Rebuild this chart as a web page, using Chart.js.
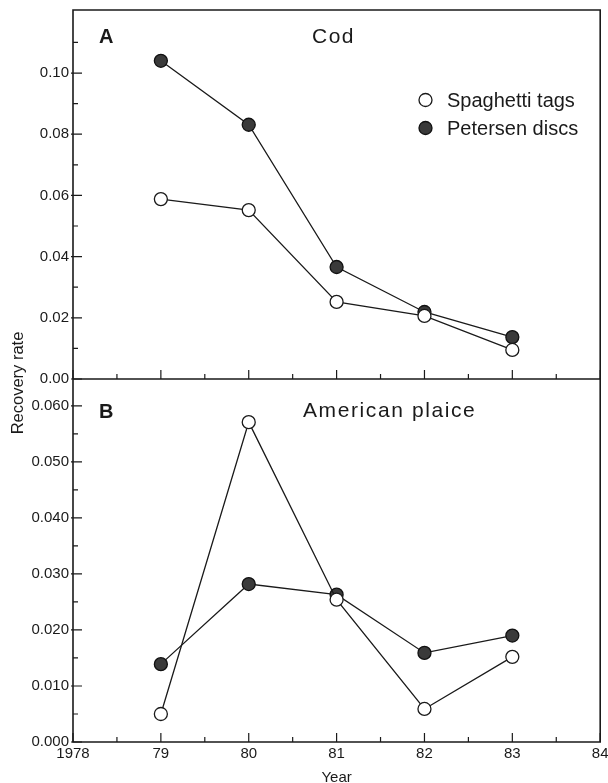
<!DOCTYPE html>
<html>
<head>
<meta charset="utf-8">
<script src="https://cdn.jsdelivr.net/npm/chart.js@4/dist/chart.umd.min.js"></script>
<style>
html,body{margin:0;padding:0;background:#fff;}
#c{display:block;}
</style>
</head>
<body>
<canvas id="c" width="608" height="783"></canvas>
<script>
// ---- data ----
const years = [1979, 1980, 1981, 1982, 1983];
const codSpaghetti = [0.0588, 0.0552, 0.0252, 0.0206, 0.0095];
const codPetersen  = [0.1040, 0.0831, 0.0366, 0.0219, 0.0137];
const plaiceSpaghetti = [0.0050, 0.0571, 0.0254, 0.0059, 0.0152];
const plaicePetersen  = [0.0139, 0.0282, 0.0263, 0.0159, 0.0190];

const xTickValues = [1978, 1979, 1980, 1981, 1982, 1983, 1984];
const xTickLabels = ['1978', '79', '80', '81', '82', '83', '84'];
const xMinorTicks = [1978.5, 1979.5, 1980.5, 1981.5, 1982.5, 1983.5];
const codTickValues = [0, 0.02, 0.04, 0.06, 0.08, 0.10];
const codTickLabels = ['0.00', '0.02', '0.04', '0.06', '0.08', '0.10'];
const codMinorTicks = [0.01, 0.03, 0.05, 0.07, 0.09, 0.11];
const plaiceTickValues = [0, 0.01, 0.02, 0.03, 0.04, 0.05, 0.06];
const plaiceTickLabels = ['0.000', '0.010', '0.020', '0.030', '0.040', '0.050', '0.060'];
const plaiceMinorTicks = [0.005, 0.015, 0.025, 0.035, 0.045, 0.055];

const FONT = '"Liberation Sans", Arial, Helvetica, sans-serif';
const INK = '#1a1a1a';
const DARK = '#3a3a3a';

function pts(vals) { return years.map((y, i) => ({x: y, y: vals[i]})); }

const openStyle = {
  borderColor: INK, borderWidth: 1.3,
  pointRadius: 6.5, pointHoverRadius: 6.5,
  pointBackgroundColor: '#ffffff', pointBorderColor: INK, pointBorderWidth: 1.3,
  tension: 0, fill: false
};
const filledStyle = {
  borderColor: INK, borderWidth: 1.3,
  pointRadius: 6.5, pointHoverRadius: 6.5,
  pointBackgroundColor: DARK, pointBorderColor: '#111', pointBorderWidth: 1.3,
  tension: 0, fill: false
};

function fixWidth(w) { return s => { s.width = w; s.paddingTop = 0; s.paddingBottom = 0; }; }

const decor = {
  id: 'decor',
  afterDraw(chart) {
    const ctx = chart.ctx;
    const ca = chart.chartArea;
    const xs = chart.scales.x, yt = chart.scales.yCod, yb = chart.scales.yPlaice;
    const mid = yt.bottom;
    ctx.save();
    ctx.strokeStyle = INK;
    ctx.lineWidth = 1.6;
    ctx.beginPath();
    ctx.rect(ca.left, ca.top, ca.right - ca.left, ca.bottom - ca.top);
    ctx.moveTo(ca.left, mid); ctx.lineTo(ca.right, mid);
    ctx.stroke();
    ctx.lineWidth = 1.2;
    ctx.beginPath();
    // y ticks inward
    codTickValues.forEach(v => { const p = yt.getPixelForValue(v); ctx.moveTo(ca.left - 2, p); ctx.lineTo(ca.left + 9, p); });
    codMinorTicks.forEach(v => { const p = yt.getPixelForValue(v); ctx.moveTo(ca.left, p); ctx.lineTo(ca.left + 5, p); });
    plaiceTickValues.forEach(v => { const p = yb.getPixelForValue(v); ctx.moveTo(ca.left - 2, p); ctx.lineTo(ca.left + 9, p); });
    plaiceMinorTicks.forEach(v => { const p = yb.getPixelForValue(v); ctx.moveTo(ca.left, p); ctx.lineTo(ca.left + 5, p); });
    // x ticks inward on both panels
    [mid, ca.bottom].forEach(base => {
      xTickValues.forEach(v => { const p = xs.getPixelForValue(v); ctx.moveTo(p, base); ctx.lineTo(p, base - 9); });
      xMinorTicks.forEach(v => { const p = xs.getPixelForValue(v); ctx.moveTo(p, base); ctx.lineTo(p, base - 5); });
    });
    ctx.stroke();

    // panel labels
    ctx.fillStyle = INK;
    ctx.textBaseline = 'alphabetic';
    ctx.textAlign = 'left';
    ctx.font = 'bold 20px ' + FONT;
    ctx.fillText('A', 99, 43);
    ctx.fillText('B', 99, 418);
    ctx.font = '21px ' + FONT;
    ctx.letterSpacing = '1.5px';
    ctx.fillText('Cod', 312, 43);
    ctx.letterSpacing = '1.6px';
    ctx.fillText('American plaice', 303, 417);
    ctx.letterSpacing = '0px';

    // legend
    ctx.font = '20px ' + FONT;
    ctx.fillText('Spaghetti tags', 447, 107);
    ctx.fillText('Petersen discs', 447, 135);
    ctx.lineWidth = 1.3;
    ctx.beginPath(); ctx.arc(425.5, 100, 6.5, 0, Math.PI * 2);
    ctx.fillStyle = '#fff'; ctx.fill(); ctx.strokeStyle = INK; ctx.stroke();
    ctx.beginPath(); ctx.arc(425.5, 128, 6.5, 0, Math.PI * 2);
    ctx.fillStyle = DARK; ctx.fill(); ctx.strokeStyle = '#111'; ctx.stroke();

    // axis titles
    ctx.fillStyle = INK;
    ctx.font = '15px ' + FONT;
    ctx.textAlign = 'center';
    ctx.fillText('Year', (ca.left + ca.right) / 2, 782);
    ctx.font = '16.5px ' + FONT;
    ctx.translate(23, 383);
    ctx.rotate(-Math.PI / 2);
    ctx.textBaseline = 'alphabetic';
    ctx.fillText('Recovery rate', 0, 0);
    ctx.restore();
  }
};

new Chart(document.getElementById('c'), {
  type: 'line',
  data: {
    datasets: [
      Object.assign({label: 'Spaghetti tags (cod)', data: pts(codSpaghetti), yAxisID: 'yCod'}, openStyle),
      Object.assign({label: 'Spaghetti tags (plaice)', data: pts(plaiceSpaghetti), yAxisID: 'yPlaice'}, openStyle),
      Object.assign({label: 'Petersen discs (cod)', data: pts(codPetersen), yAxisID: 'yCod'}, filledStyle),
      Object.assign({label: 'Petersen discs (plaice)', data: pts(plaicePetersen), yAxisID: 'yPlaice'}, filledStyle)
    ]
  },
  options: {
    responsive: false,
    devicePixelRatio: 1,
    animation: false,
    layout: {padding: {top: 10, right: 4, left: 0, bottom: 0}},
    plugins: {legend: {display: false}, tooltip: {enabled: false}},
    events: [],
    scales: {
      x: {
        type: 'linear', min: 1978, max: 1984,
        grid: {display: false, drawTicks: false},
        border: {display: false},
        afterBuildTicks: s => { s.ticks = xTickValues.map(v => ({value: v})); },
        afterFit: s => { s.height = 41; s.paddingLeft = 0; s.paddingRight = 0; },
        ticks: {
          autoSkip: false, maxRotation: 0, padding: 3, color: INK,
          font: {family: FONT, size: 15},
          callback: (v, i) => xTickLabels[i]
        }
      },
      yPlaice: {
        type: 'linear', position: 'left', stack: 'panels', stackWeight: 363,
        min: 0, max: 0.0648,
        grid: {display: false, drawTicks: false},
        border: {display: false},
        afterBuildTicks: s => { s.ticks = plaiceTickValues.map(v => ({value: v})); },
        afterFit: fixWidth(73),
        ticks: {
          autoSkip: false, padding: 4, color: INK,
          font: {family: FONT, size: 15},
          callback: (v, i) => plaiceTickLabels[i]
        }
      },
      yCod: {
        type: 'linear', position: 'left', stack: 'panels', stackWeight: 369,
        min: 0, max: 0.1206,
        grid: {display: false, drawTicks: false},
        border: {display: false},
        afterBuildTicks: s => { s.ticks = codTickValues.map(v => ({value: v})); },
        afterFit: fixWidth(73),
        ticks: {
          autoSkip: false, padding: 4, color: INK,
          font: {family: FONT, size: 15},
          callback: (v, i) => codTickLabels[i]
        }
      }
    }
  },
  plugins: [decor]
});
</script>
</body>
</html>
